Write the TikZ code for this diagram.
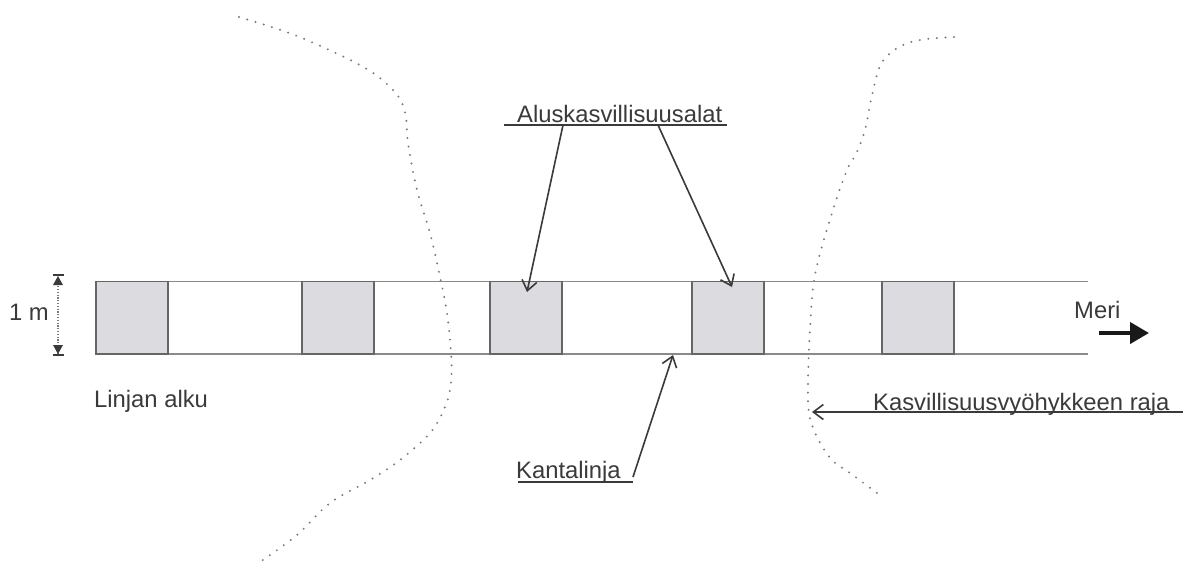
\documentclass[tikz,border=0pt]{standalone}
\usepackage{fontspec}
\setmainfont{Liberation Sans}
\usetikzlibrary{arrows.meta,calc}

\definecolor{ink}{HTML}{3A3A3A}
\definecolor{plotfill}{HTML}{DCDBE0}
\definecolor{plotedge}{HTML}{666666}
\definecolor{stripline}{HTML}{8A8A8A}
\definecolor{dotgray}{HTML}{7A7A7A}

\tikzset{
  lbl/.style={anchor=base west, inner sep=0pt, text=ink, font=\fontsize{23.8}{28}\selectfont},
  plotbox/.style={draw=plotedge, fill=plotfill, line width=1.5pt, minimum width=72pt, minimum height=72.5pt, inner sep=0pt},
  strip/.style={draw=stripline, line width=1.6pt},
  pointer/.style={draw=ink, line width=1.6pt, -{Straight Barb[length=10pt,width=15pt,line width=1.6pt]}},
  uline/.style={draw=ink, line width=1.4pt},
  border/.style={draw=dotgray, line width=2.2pt, line cap=round, dash pattern=on 0pt off 8.6pt},
}

\begin{document}
\begin{tikzpicture}[x=1pt, y=-1pt]
  \useasboundingbox[fill=white] (0,0) rectangle (1185,563);

  % vegetation zone borders
  \draw[border] plot[smooth, tension=0.6] coordinates {
    (239,17) (292,34) (342,56) (370,71) (388,85) (400,99) (406,117) (408,143)
    (417,190) (430,233) (440,277) (447,313) (451,353) (451,383) (445,407)
    (430,433) (400,460) (370,480) (330,503) (297,535) (260,562)};
  \draw[border] plot[smooth, tension=0.6] coordinates {
    (954,37) (927,39) (908,43) (893,51) (880,66) (871,100) (865,130) (856,154)
    (847,170) (832,213) (815,275) (810,330) (808,383) (809,413) (817,437)
    (832,460) (850,473) (877,493)};

  % transect strip
  \coordinate (sTL) at (96,281.5);
  \coordinate (sTR) at (1088,281.5);
  \coordinate (sBL) at (96,354);
  \coordinate (sBR) at (1088,354);
  \draw[strip] (sTL) -- (sTR);
  \draw[strip] (sBL) -- (sBR);

  % sample plots
  \node[plotbox] (b1) at (132,317.75) {};
  \node[plotbox] (b2) at (338,317.75) {};
  \node[plotbox] (b3) at (526,317.75) {};
  \node[plotbox] (b4) at (728,317.75) {};
  \node[plotbox] (b5) at (918,317.75) {};

  % width dimension
  \coordinate (dT) at (58,275);
  \coordinate (dB) at (58,355);
  \draw[draw=dotgray, line width=1.2pt, dash pattern=on 1.2pt off 1.6pt] (dT) -- (dB);
  \draw[draw=ink, line width=1.4pt] ($(dT)+(-5.5,0)$) -- ($(dT)+(5.5,0)$);
  \draw[draw=ink, line width=1.4pt] ($(dB)+(-5.5,0)$) -- ($(dB)+(5.5,0)$);
  \fill[ink] ($(dT)+(0,1)$) -- ($(dT)+(-5,10)$) -- ($(dT)+(5,10)$) -- cycle;
  \fill[ink] ($(dB)+(0,-1)$) -- ($(dB)+(-5,-10)$) -- ($(dB)+(5,-10)$) -- cycle;
  \node[lbl, anchor=base east] (width) at (49,320) {1 m};

  % labels
  \node[lbl] (start) at (94,407) {Linjan alku};
  \node[lbl] (plots) at (517,122) {Aluskasvillisuusalat};
  \node[lbl] (base) at (516,478) {Kantalinja};
  \node[lbl] (zone) at (873,410) {Kasvillisuusvyöhykkeen raja};
  \node[lbl] (sea) at (1074,318) {Meri};

  % label for sample plots
  \coordinate (pL) at (504,125);
  \coordinate (pR) at (727,125);
  \coordinate (p1) at (563,125);
  \coordinate (p2) at (658,125);
  \coordinate (t3) at (527,292);
  \coordinate (t4) at (732,287);
  \draw[uline] (pL) -- (pR);
  \draw[pointer] (p1) -- (t3);
  \draw[pointer] (p2) -- (t4);

  % label for base line
  \coordinate (kL) at (518,482);
  \coordinate (kR) at (633,482);
  \coordinate (kA) at (633,477);
  \coordinate (kT) at (673,355);
  \draw[uline] (kL) -- (kR);
  \draw[pointer] (kA) -- (kT);

  % label for zone border
  \coordinate (zR) at (1183,412);
  \coordinate (zM) at (860,412);
  \coordinate (zT) at (812,412);
  \draw[uline] (zR) -- (zM);
  \draw[pointer] (zM) -- (zT);

  % direction to the sea
  \coordinate (mS) at (1099,333);
  \coordinate (mE) at (1149,333);
  \draw[line width=4pt, draw=black!90, -{Triangle[length=19pt,width=21pt]}] (mS) -- (mE);
\end{tikzpicture}
\end{document}
